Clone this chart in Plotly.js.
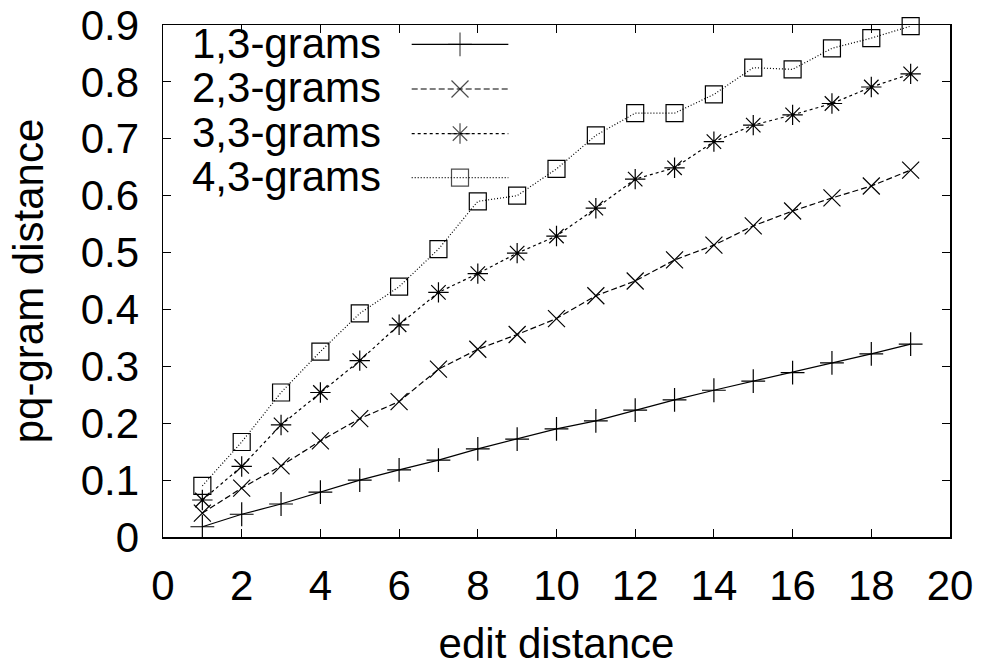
<!DOCTYPE html>
<html>
<head>
<meta charset="utf-8">
<script src="https://cdn.plot.ly/plotly-3.0.1.min.js"></script>
<style>html,body{margin:0;padding:0;background:#fff;}#chart{width:984px;height:667px;}</style>
</head>
<body>
<div id="chart"></div>
<script>
// ---- data ----
const editDistance = [1,2,3,4,5,6,7,8,9,10,11,12,13,14,15,16,17,18,19];
const seriesNames = ["1,3-grams", "2,3-grams", "3,3-grams", "4,3-grams"];
const grams13 = [0.018,0.040,0.058,0.079,0.100,0.118,0.135,0.155,0.172,0.190,0.204,0.223,0.241,0.258,0.274,0.289,0.306,0.322,0.339];
const grams23 = [0.042,0.086,0.125,0.169,0.208,0.238,0.295,0.330,0.356,0.384,0.424,0.450,0.487,0.513,0.547,0.573,0.596,0.617,0.645];
const grams33 = [0.065,0.124,0.197,0.254,0.310,0.373,0.430,0.463,0.499,0.529,0.578,0.629,0.649,0.695,0.724,0.742,0.762,0.791,0.814];
const grams43 = [0.090,0.167,0.254,0.326,0.393,0.440,0.506,0.590,0.600,0.647,0.706,0.745,0.745,0.778,0.825,0.822,0.859,0.877,0.898];
const xTickVals = [0,2,4,6,8,10,12,14,16,18,20];
const yTickVals = [0,0.1,0.2,0.3,0.4,0.5,0.6,0.7,0.8,0.9];
const yTickText = ["0","0.1","0.2","0.3","0.4","0.5","0.6","0.7","0.8","0.9"];

const allSeries = [grams13, grams23, grams33, grams43];
const symbols = ["cross-thin-open", "x-thin-open", "asterisk-open", "square-open"];
const dashes = ["solid", "6px,3px", "3px,3px", "1px,2px"];
const FONT = "Liberation Sans, Arial, Helvetica, sans-serif";

const traces = [];
allSeries.forEach((ys, i) => {
  traces.push({
    x: editDistance, y: ys, type: "scatter", mode: "lines+markers",
    name: seriesNames[i], showlegend: false,
    line: {color: "#000", width: 1.2, dash: dashes[i]},
    marker: {symbol: symbols[i], size: 17, color: "#000", line: {color: "#000", width: 1.2}},
    cliponaxis: false
  });
});

// legend key glyphs (on an overlay axis spanning the plot area 0..1)
const keyRowY = [0.962, 0.875, 0.788, 0.702];
const keyX0 = 0.316, keyXm = 0.3774, keyX1 = 0.4388, labelX = 0.2795;
const annotations = [];
seriesNames.forEach((nm, i) => {
  traces.push({
    x: [keyX0, keyXm, keyX1], y: [keyRowY[i], keyRowY[i], keyRowY[i]],
    xaxis: "x2", yaxis: "y2", type: "scatter", mode: "lines+markers", showlegend: false,
    hoverinfo: "skip",
    line: {color: "#000", width: 1.2, dash: dashes[i]},
    marker: {symbol: symbols[i], size: [0, 17, 0], color: "#000", line: {color: "#000", width: 1.2}}
  });
  annotations.push({
    xref: "paper", yref: "paper", x: labelX, y: keyRowY[i] + 0.002,
    xanchor: "right", yanchor: "middle", showarrow: false,
    text: nm, font: {family: FONT, size: 42, color: "#000"}
  });
});

const layout = {
  width: 984, height: 667,
  margin: {l: 163, r: 34, t: 25, b: 130},
  paper_bgcolor: "#fff", plot_bgcolor: "#fff",
  font: {family: FONT, size: 42, color: "#000"},
  showlegend: false,
  xaxis: {
    range: [0, 20], tickvals: xTickVals, ticktext: xTickVals.map(String),
    ticks: "inside", ticklen: 8, tickwidth: 1, tickcolor: "#000",
    showline: true, linecolor: "#000", linewidth: 1.5, mirror: "ticks",
    showgrid: false, zeroline: false, fixedrange: true,
    tickfont: {family: FONT, size: 42, color: "#000"},
    ticklabelstandoff: 11,
    title: {text: "edit distance", font: {family: FONT, size: 42, color: "#000"}, standoff: 28}
  },
  yaxis: {
    range: [0, 0.9], tickvals: yTickVals, ticktext: yTickText,
    ticks: "inside", ticklen: 8, tickwidth: 1, tickcolor: "#000",
    showline: true, linecolor: "#000", linewidth: 1.5, mirror: "ticks",
    showgrid: false, zeroline: false, fixedrange: true,
    tickfont: {family: FONT, size: 42, color: "#000"},
    ticklabelstandoff: 14,
    title: {text: "pq-gram distance", font: {family: FONT, size: 42, color: "#000"}, standoff: 24}
  },
  xaxis2: {overlaying: "x", range: [0, 1], visible: false, fixedrange: true},
  yaxis2: {overlaying: "y", range: [0, 1], visible: false, fixedrange: true},
  annotations: annotations
};

Plotly.newPlot("chart", traces, layout, {displayModeBar: false, staticPlot: true});
</script>
</body>
</html>
